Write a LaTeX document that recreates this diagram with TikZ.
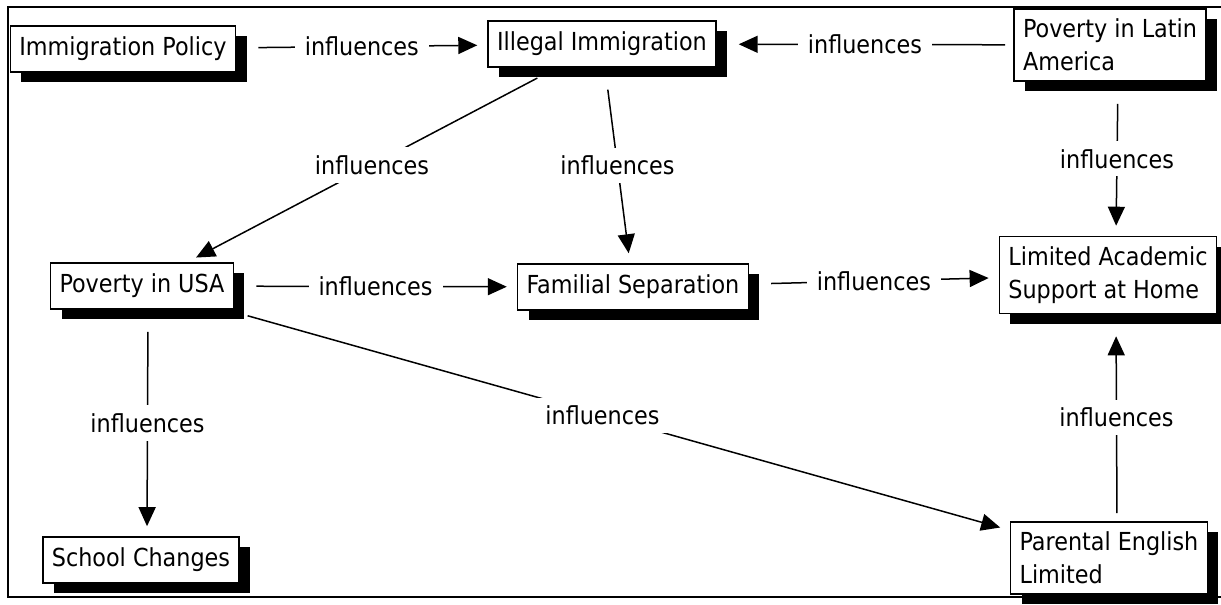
\documentclass[tikz,border=0pt]{standalone}
\usepackage{fontspec}
\setmainfont{DejaVu Sans Condensed}
\usetikzlibrary{arrows.meta,shadows}

\tikzset{
  concetto/.style={draw, line width=0.8pt, fill=white, align=left,
    inner xsep=4.5pt, inner ysep=5pt, minimum height=23pt,
    font=\fontsize{12.4}{16.5}\selectfont,
    drop shadow={shadow xshift=5.5pt, shadow yshift=-5pt, opacity=1, fill=black}},
  legame/.style={->, line width=0.75pt, shorten <=11pt, shorten >=5pt},
  ritorno/.style={->, line width=0.75pt, shorten <=4pt, shorten >=11pt},
  etichetta/.style={fill=white, inner xsep=5pt, inner ysep=4pt,
    font=\fontsize{12.4}{14}\selectfont}
}

\begin{document}
\begin{tikzpicture}[>={Triangle[length=9.5pt,width=8.5pt]}, x=0.5pt, y={(0,-0.5pt)}]
    % --- Cornice ---
    \useasboundingbox (0,0) rectangle (1221,605);
    \begin{scope}
      \clip (0,0) rectangle (1221,605);
      \draw[line width=1pt] (8,7) rectangle (1240,597);
    \end{scope}

    % --- Concetti ---
    \node[concetto] (pol)  at (123,49)   {Immigration Policy};
    \node[concetto] (ill)  at (602,44)   {Illegal Immigration};
    \node[concetto] (plat) at (1110,45)  {Poverty in Latin\\America};
    \node[concetto] (usa)  at (142,286)  {Poverty in USA};
    \node[concetto] (fam)  at (633,287)  {Familial Separation};
    \node[concetto] (lim)  at (1108,275) {Limited Academic\\Support at Home};
    \node[concetto] (sch)  at (141,560)  {School Changes};
    \node[concetto] (par)  at (1109,558) {Parental English\\Limited};

    % --- Legami ---
    \draw[legame]  (pol) -- node[etichetta] {influences} (ill);
    \draw[ritorno] (plat) -- node[etichetta] {influences} (ill);
    \draw[legame]  (ill) -- node[etichetta] {influences} (usa);
    \draw[legame]  (ill) -- node[etichetta] {influences} (fam);
    \draw[legame]  ([xshift=4pt]plat.south) -- node[etichetta] {influences} ([xshift=4pt]lim.north);
    \draw[legame]  (usa) -- node[etichetta] {influences} (fam);
    \draw[legame]  (fam) -- node[etichetta] {influences} (lim);
    \draw[ritorno] ([xshift=4pt]par.north) -- node[etichetta] {influences} ([xshift=4pt]lim.south);
    \draw[legame]  ([xshift=3pt]usa.south) -- node[etichetta] {influences} ([xshift=3pt]sch.north);
    \draw[legame]  (usa) -- node[etichetta, pos=0.48] {influences} (par);
\end{tikzpicture}
\end{document}
